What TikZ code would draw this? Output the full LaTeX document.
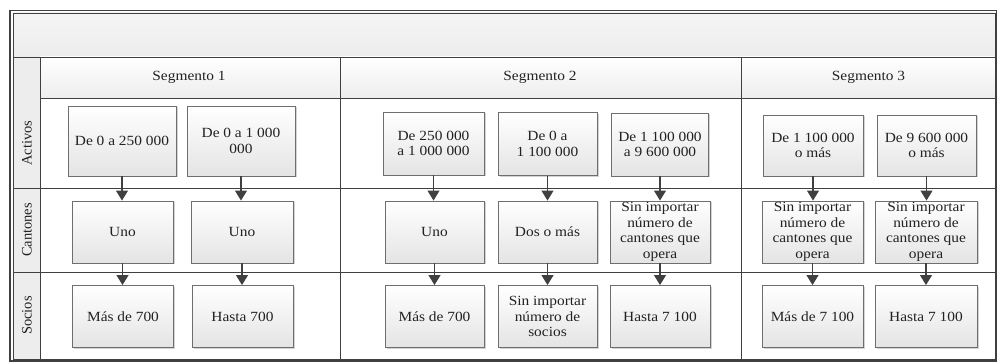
\documentclass[tikz,border=0pt]{standalone}
\usepackage{fontspec}
\setmainfont[FakeStretch=1.1]{Liberation Serif}
\newfontfamily\lanefont{Liberation Serif}
\usetikzlibrary{arrows.meta,shadows}
\definecolor{txt}{HTML}{222222}
\definecolor{gridline}{HTML}{404040}
\definecolor{boxline}{HTML}{6E6E6E}
\definecolor{boxfill}{HTML}{E4E4E4}
\definecolor{bandfill}{HTML}{EDEDED}
\begin{document}
\begin{tikzpicture}[x=1pt,y=-1pt,
  box/.style={draw=boxline, line width=0.9pt, top color=white, bottom color=boxfill,
    drop shadow={opacity=0.35, shadow xshift=1.5pt, shadow yshift=-1.5pt},
    align=center, font=\fontsize{14}{15.5}\selectfont, text=txt, inner sep=0pt,
    minimum width=100pt, minimum height=62pt},
  bigbox/.style={box, minimum width=108pt, minimum height=70pt},
  lane/.style={rotate=90, font=\lanefont\fontsize{14.5}{16}\selectfont, text=txt},
  seghead/.style={font=\fontsize{14}{15.5}\selectfont, text=txt},
  grid/.style={draw=gridline, line width=0.8pt},
  arr/.style={draw=gridline, line width=1.1pt, -{Triangle[length=10pt,width=12pt]}}]
\useasboundingbox (0,0) rectangle (997,363);
% background bands
\shade[top color=bandfill!60, bottom color=bandfill] (14,13) rectangle (996,57);
\shade[top color=white, bottom color=bandfill] (40,57) rectangle (996,98);
\fill[bandfill] (14,57) rectangle (40,359);
% frame
\draw[gridline, line width=1.2pt] (10,10.5) rectangle (996.5,361);
\draw[gridline, line width=0.6pt] (13,13) rectangle (995.5,359);
% grid lines
\draw[grid] (13,57) -- (996,57);
\draw[grid] (40,98) -- (996,98);
\draw[grid] (13,188) -- (996,188);
\draw[grid] (13,272) -- (996,272);
\draw[grid] (40,57) -- (40,359);
\draw[grid] (340,57) -- (340,359);
\draw[grid] (741,57) -- (741,359);
% lane labels
\node[lane] (lA) at (27,143) {Activos};
\node[lane] (lC) at (27,230) {Cantones};
\node[lane] (lS) at (27,315.5) {Socios};
% segment headers
\node[seghead] (h1) at (189,77) {Segmento 1};
\node[seghead] (h2) at (540,77) {Segmento 2};
\node[seghead] (h3) at (868.5,77) {Segmento 3};
% Segment 1
\node[bigbox] (A1) at (122,141) {De 0 a 250 000};
\node[bigbox] (A2) at (241,141) {De 0 a 1 000\\000};
\node[box, minimum width=101pt] (C1) at (122.5,232) {Uno};
\node[box, minimum width=102pt] (C2) at (242,232) {Uno};
\node[box, minimum width=101pt] (S1) at (123,316.5) {Más de 700};
\node[box, minimum width=101pt] (S2) at (242.5,316.5) {Hasta 700};
% Segment 2
\node[box, minimum width=101pt, minimum height=63pt] (A3) at (433.5,143.5) {De 250 000\\a 1 000 000};
\node[box, minimum width=99pt, minimum height=63pt] (A4) at (547.5,144) {De 0 a\\1 100 000};
\node[box, minimum width=97pt, minimum height=63pt] (A5) at (660,144.5) {De 1 100 000\\a 9 600 000};
\node[box, minimum width=99pt] (C3) at (434.5,232) {Uno};
\node[box, minimum width=99pt] (C4) at (547.5,232) {Dos o más};
\node[box] (C5) at (660,232) {Sin importar\\número de\\cantones que\\opera};
\node[box, minimum width=99pt] (S3) at (434.5,316.5) {Más de 700};
\node[box, minimum width=99pt] (S4) at (547.5,316.5) {Sin importar\\número de\\socios};
\node[box] (S5) at (660,316.5) {Hasta 7 100};
% Segment 3
\node[box, minimum height=61pt] (A6) at (813,145.5) {De 1 100 000\\o más};
\node[box, minimum width=99pt, minimum height=61pt] (A7) at (926.5,145.5) {De 9 600 000\\o más};
\node[box, minimum width=101pt] (C6) at (812.5,232) {Sin importar\\número de\\cantones que\\opera};
\node[box, minimum width=102pt] (C7) at (926,232) {Sin importar\\número de\\cantones que\\opera};
\node[box, minimum width=101pt] (S6) at (812.5,316.5) {Más de 7 100};
\node[box, minimum width=102pt] (S7) at (926,316.5) {Hasta 7 100};
% connectors
\foreach \a/\b in {A1/C1,A2/C2,A3/C3,A4/C4,A5/C5,A6/C6,A7/C7,
                   C1/S1,C2/S2,C3/S3,C4/S4,C5/S5,C6/S6,C7/S7}
  \draw[arr] (\a.south) -- (\a.south |- \b.north);
\end{tikzpicture}
\end{document}
